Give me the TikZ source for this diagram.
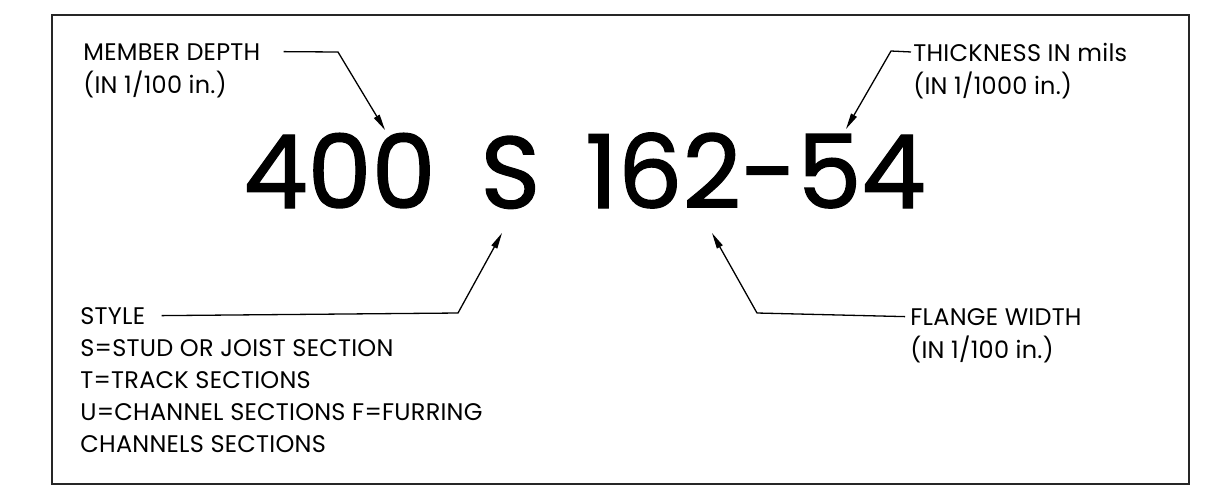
\documentclass[tikz,border=0pt]{standalone}
\usepackage{fontspec}
\setmainfont{Poppins}
\newfontfamily\callout[LetterSpace=1]{Poppins}
\newfontfamily\bigcode[FakeBold=1.3]{Poppins}
\usepackage{tikz}
\usetikzlibrary{arrows.meta, positioning}

\begin{document}
\begin{tikzpicture}[
    x=0.5pt, y=-0.5pt,
    title/.style={inner sep=0pt, anchor=base west, font=\callout\fontsize{12}{16}\selectfont},
    note/.style={title, align=left},
    code/.style={inner sep=0pt, anchor=base west, font=\bigcode\fontsize{51}{51}\selectfont},
    frame/.style={line width=1pt, draw=black!85},
    leader/.style={line width=0.65pt},
    arrow/.style={leader, -{Triangle[length=8pt, width=3.2pt]}}
]
\useasboundingbox (0,0) rectangle (1210,489);

% outer frame
\draw[frame] (52,15) rectangle (1189,484);

% designation
\node[code] (depth) at (243,208) {400};
\node[code, right=22pt of depth.base east, anchor=base west] (style) {S};
\node[code, right=22pt of style.base east, anchor=base west] (flangethick) {162-54};

% callout texts
\node[title] (depthtitle) at (83,60) {MEMBER DEPTH};
\node[title, below=16.5pt of depthtitle.base west, anchor=base west] (depthunit) {(IN 1/100 in.)};

\node[title] (thicktitle) at (913,61) {THICKNESS IN mils};
\node[title, below=16.5pt of thicktitle.base west, anchor=base west] (thickunit) {(IN 1/1000 in.)};

\node[title] (styletitle) at (80,324) {STYLE};
\node[note, below=7.5pt of styletitle.south west, anchor=north west] (stylelist)
  {S=STUD OR JOIST SECTION\\T=TRACK SECTIONS\\U=CHANNEL SECTIONS F=FURRING\\CHANNELS SECTIONS};

\node[title] (flangetitle) at (910,325) {FLANGE WIDTH};
\node[title, below=16.5pt of flangetitle.base west, anchor=base west] (flangeunit) {(IN 1/100 in.)};

% leader kinks and tips
\coordinate (depthkink) at (338,52);
\coordinate (depthtip) at (385,130);
\coordinate (thickkink) at (891,51);
\coordinate (thicktip) at (846,129);
\coordinate (stylekink) at (458,313);
\coordinate (styletip) at (502,233);
\coordinate (flangekink) at (757,313);
\coordinate (flangetip) at (712,233);

% leaders
\draw[arrow] ([xshift=11.5pt]depthtitle.east) -- (depthkink) -- (depthtip);
\draw[arrow] ([xshift=-1pt]thicktitle.west) -- (thickkink) -- (thicktip);
\draw[arrow] ([xshift=8pt]styletitle.east) -- (stylekink) -- (styletip);
\draw[arrow] ([xshift=-2.5pt]flangetitle.west) -- (flangekink) -- (flangetip);

\end{tikzpicture}
\end{document}
